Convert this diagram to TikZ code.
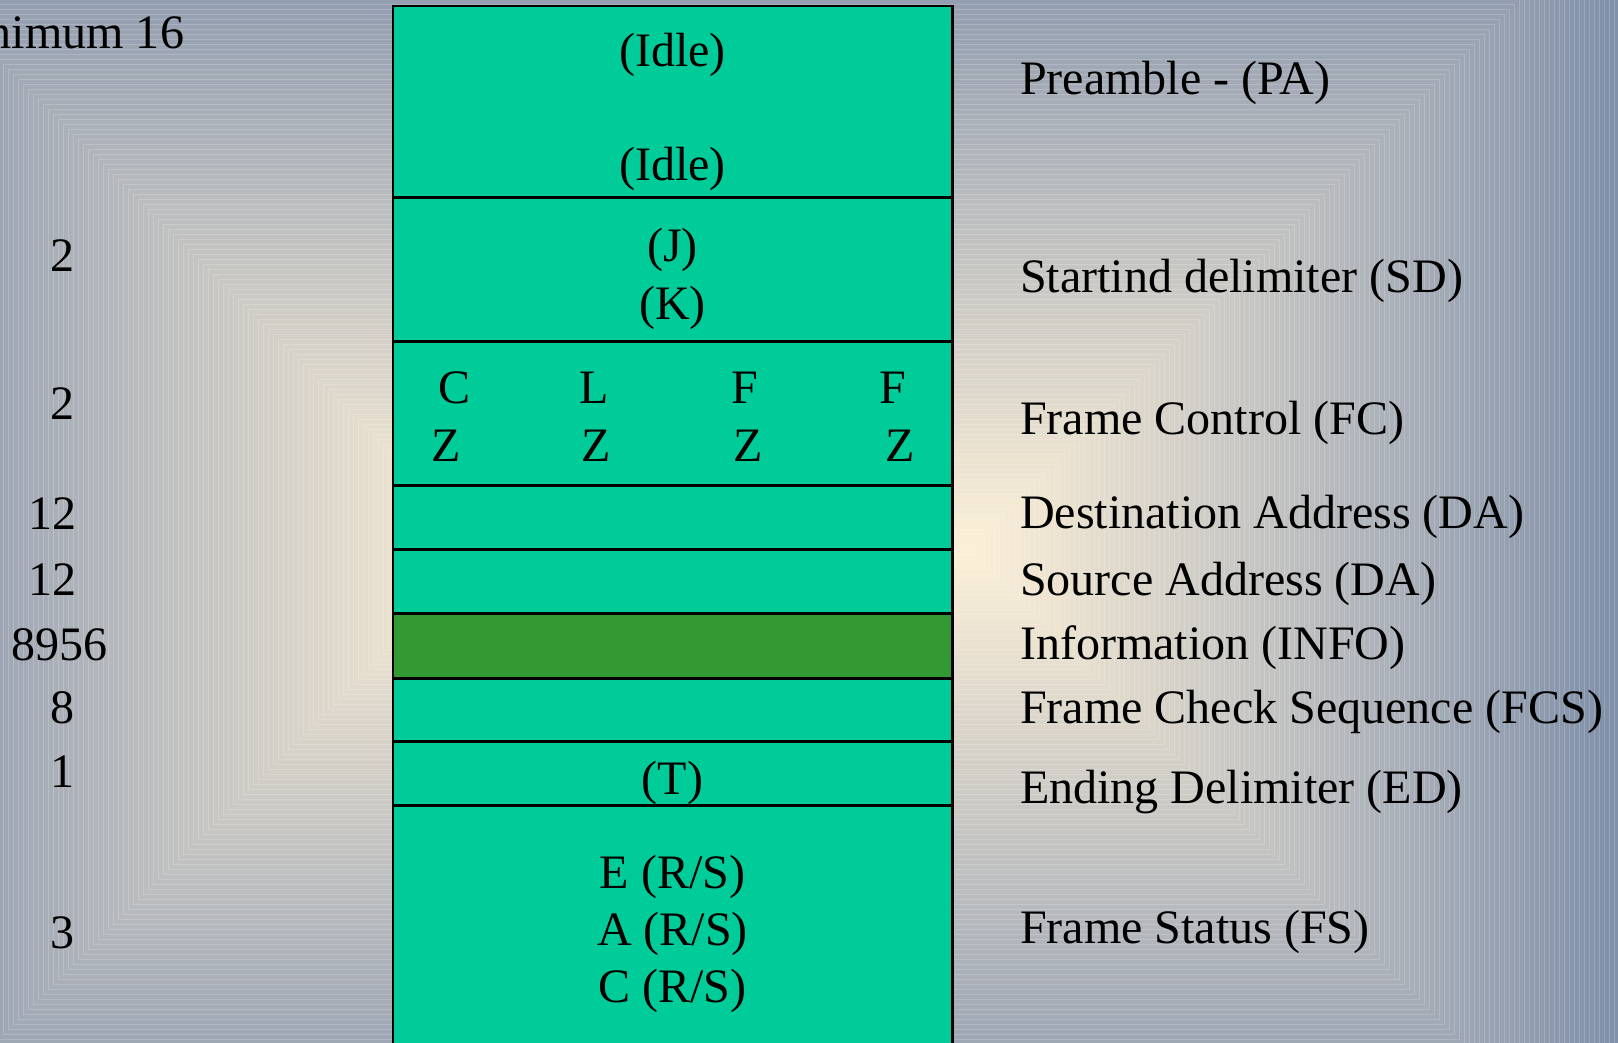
\documentclass[tikz,border=0pt]{standalone}
\usepackage{fontspec}
\setmainfont{Liberation Serif}
\definecolor{bgcentre}{RGB}{253,240,215}
\definecolor{bgedge}{RGB}{130,145,170}
\definecolor{fieldteal}{RGB}{0,204,153}
\definecolor{infogreen}{RGB}{51,153,51}
\tikzset{
  txt/.style={inner sep=0pt, outer sep=0pt, font=\fontsize{13.66}{16}\selectfont},
  fieldbox/.style={rectangle, draw=black, line width=0.8pt, fill=fieldteal,
    minimum width=5.59cm, inner sep=0pt, outer sep=0pt, anchor=north west},
  seam/.style={draw=white, opacity=0.18, line width=0.25pt}
}
\begin{document}
\begin{tikzpicture}[x=0.01cm, y=-0.01cm]
\useasboundingbox (0,0) rectangle (1618,1043);
\clip (0,0) rectangle (1618,1043);

% rectangular background gradient, cream in the middle, blue-grey outside
\foreach \k in {0,...,130}{
  \pgfmathsetmacro{\s}{655-5*\k}
  \pgfmathsetmacro{\p}{max(0,min(100,\s/6.41))}
  \colorlet{band}{bgedge!\p!bgcentre}
  \fill[band] ({488-\s},{549-\s}) rectangle ({969+\s},{549+\s});
  \draw[seam] ({488-\s},{549-\s}) rectangle ({969+\s},{549+\s});
}

% frame fields
\node[fieldbox, minimum height=1.915cm] (pa) at (393,6) {};
\node[fieldbox, minimum height=1.442cm] (sd) at (393,197.5) {};
\node[fieldbox, minimum height=1.441cm] (fc) at (393,341.6) {};
\node[fieldbox, minimum height=0.637cm] (da) at (393,485.7) {};
\node[fieldbox, minimum height=0.645cm] (sa) at (393,549.4) {};
\node[fieldbox, minimum height=0.643cm, fill=infogreen] (info) at (393,613.9) {};
\node[fieldbox, minimum height=0.637cm] (fcs) at (393,678.2) {};
\node[fieldbox, minimum height=0.637cm] (ed) at (393,741.9) {};
\node[fieldbox, minimum height=3.0cm] (fs) at (393,805.6) {};

% contents of the fields
\node[txt, anchor=base] (idle1) at (672.5,66.5) {(Idle)};
\node[txt, anchor=base] (idle2) at (672.5,180.5) {(Idle)};
\node[txt, anchor=base] (jsym) at (672.5,262) {(J)};
\node[txt, anchor=base] (ksym) at (672.5,320) {(K)};
\node[txt, anchor=base] (fcC) at (455,404) {C};
\node[txt, anchor=base] (fcL) at (594.5,404) {L};
\node[txt, anchor=base] (fcF1) at (744.4,404) {F};
\node[txt, anchor=base] (fcF2) at (892.4,404) {F};
\node[txt, anchor=base] (fcZ1) at (446,462) {Z};
\node[txt, anchor=base] (fcZ2) at (596.4,462) {Z};
\node[txt, anchor=base] (fcZ3) at (748,462) {Z};
\node[txt, anchor=base] (fcZ4) at (899.8,462) {Z};
\node[txt, anchor=base] (tsym) at (672.5,794.5) {(T)};
\node[txt, anchor=base] (fsE) at (672.5,888.5) {E (R/S)};
\node[txt, anchor=base] (fsA) at (672.5,945) {A (R/S)};
\node[txt, anchor=base] (fsC) at (672.5,1002.5) {C (R/S)};

% field names
\node[txt, anchor=base west] (lpa) at (1020,95) {Preamble - (PA)};
\node[txt, anchor=base west] (lsd) at (1020,292.5) {Startind delimiter (SD)};
\node[txt, anchor=base west] (lfc) at (1020,435) {Frame Control (FC)};
\node[txt, anchor=base west] (lda) at (1020,528.5) {Destination Address (DA)};
\node[txt, anchor=base west] (lsa) at (1020,595) {Source Address (DA)};
\node[txt, anchor=base west] (linfo) at (1020,659.5) {Information (INFO)};
\node[txt, anchor=base west] (lfcs) at (1020,723) {Frame Check Sequence (FCS)};
\node[txt, anchor=base west] (led) at (1020,803.5) {Ending Delimiter (ED)};
\node[txt, anchor=base west] (lfs) at (1020,943.5) {Frame Status (FS)};

% field lengths
\node[txt, anchor=base east] (npa) at (184,48.3) {nimum 16};
\node[txt, anchor=base] (nsd) at (63,271.7) {2};
\node[txt, anchor=base] (nfc) at (63,420) {2};
\node[txt, anchor=base] (nda) at (52.6,529.5) {12};
\node[txt, anchor=base] (nsa) at (52.6,595.5) {12};
\node[txt, anchor=base] (ninfo) at (59.7,660) {8956};
\node[txt, anchor=base] (nfcs) at (62.5,723) {8};
\node[txt, anchor=base] (ned) at (63,787) {1};
\node[txt, anchor=base] (nfs) at (62.5,948) {3};
\end{tikzpicture}
\end{document}
